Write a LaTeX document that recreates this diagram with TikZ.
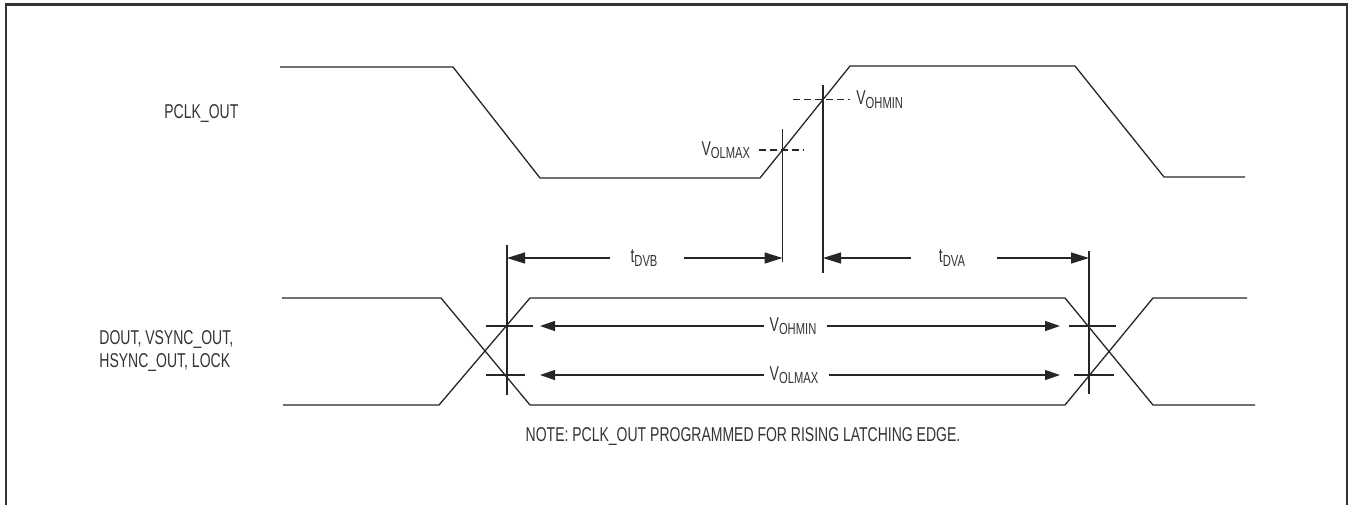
\documentclass[tikz,border=0pt]{standalone}
\usepackage{fontspec}
\setmainfont{Liberation Sans}[FakeStretch=0.7]
\usetikzlibrary{arrows.meta,calc}
\newcommand{\lvl}[2]{#1\raisebox{-1.6pt}{\fontsize{8}{8}\selectfont #2}}

\begin{document}
\begin{tikzpicture}[x=0.5pt,y=-0.5pt]
  \tikzstyle{border}=[draw=black!80, line width=1.1pt]
  \tikzstyle{wave}=[draw=black!85, line width=0.65pt]
  \tikzstyle{guide}=[draw=black!85, line width=0.65pt]
  \tikzstyle{thresh}=[draw=black!85, line width=0.6pt, dash pattern=on 3.5pt off 2pt]
  \tikzstyle{dim}=[draw=black!85, line width=0.65pt, -{Triangle[length=9pt,width=5.5pt]}]
  \tikzstyle{eye}=[draw=black!85, line width=0.65pt, -{Triangle[length=7.5pt,width=5pt]}]
  \tikzstyle{lbl}=[inner sep=0pt, font=\fontsize{10}{11.5}\selectfont, text=black!80]

  \useasboundingbox (0,0) rectangle (1350,505);
  \path[border] (6,505) -- (6,4.5) -- (1347,4.5) -- (1347,505);

  % signal names
  \node [lbl, anchor=west] (pclk) at (164,113) {PCLK\_OUT};
  \node [lbl, anchor=west, align=left] (dout) at (99,351) {DOUT, VSYNC\_OUT,\\HSYNC\_OUT, LOCK};

  % PCLK_OUT
  \coordinate (p0) at (280,67);
  \coordinate (p1) at (453,67);
  \coordinate (p2) at (540,178);
  \coordinate (p3) at (760,178);
  \coordinate (p4) at (850,66);
  \coordinate (p5) at (1075,66);
  \coordinate (p6) at (1164,177);
  \coordinate (p7) at (1245,177);
  \path[wave] (p0) -- (p1) -- (p2) -- (p3) -- (p4) -- (p5) -- (p6) -- (p7);

  % thresholds on the rising edge
  \coordinate (xol) at ($(p3)!0.25!(p4)$);
  \coordinate (xoh) at ($(p3)!0.7!(p4)$);
  \node [lbl, anchor=east] (volp) at ($(xol)+(-32,0)$) {\lvl{V}{OLMAX}};
  \node [lbl, anchor=west] (vohp) at ($(xoh)+(33,0)$) {\lvl{V}{OHMIN}};
  \path[thresh] ($(volp.east)+(8,0)$) -- ($(xol)+(21,0)$);
  \path[thresh] ($(xoh)+(-30,0)$) -- ($(vohp.west)+(-6,0)$);

  % timing markers
  \coordinate (olt) at (782.5,129);
  \coordinate (olb) at (782.5,262);
  \coordinate (oht) at (823,85);
  \coordinate (ohb) at (823,273);
  \coordinate (lt) at (507,245);
  \coordinate (lb) at (507,395);
  \coordinate (rt) at (1089,251);
  \coordinate (rb) at (1089,394);
  \path[guide] (olt) -- (olb);
  \path[guide] (oht) -- (ohb);
  \path[guide] (lt) -- (lb);
  \path[guide] (rt) -- (rb);

  \node [lbl] (tdvb) at (644,258) {\lvl{t}{DVB}};
  \node [lbl] (tdva) at (952,258) {\lvl{t}{DVA}};
  \draw[dim, shorten <=10pt] (tdvb.west) -- (lt |- tdvb);
  \draw[dim, shorten <=13pt] (tdvb.east) -- (olb |- tdvb);
  \draw[dim, shorten <=14pt] (tdva.west) -- (ohb |- tdva);
  \draw[dim, shorten <=16pt] (tdva.east) -- (rt |- tdva);

  % DOUT, VSYNC_OUT, HSYNC_OUT, LOCK
  \coordinate (a0) at (282,298);
  \coordinate (a1) at (441,298);
  \coordinate (a2) at (530,405);
  \coordinate (a3) at (1065,405);
  \coordinate (a4) at (1153,298);
  \coordinate (a5) at (1247,298);
  \coordinate (b0) at (283,405);
  \coordinate (b1) at (439,405);
  \coordinate (b2) at (530,298);
  \coordinate (b3) at (1065,298);
  \coordinate (b4) at (1153,405);
  \coordinate (b5) at (1255,405);
  \path[wave] (a0) -- (a1) -- (a2) -- (a3) -- (a4) -- (a5);
  \path[wave] (b0) -- (b1) -- (b2) -- (b3) -- (b4) -- (b5);

  \path[guide] (486,326) -- (533,326);
  \path[guide] (1069,326) -- (1116,326);
  \path[guide] (486,375) -- (525,375);
  \path[guide] (1074,375) -- (1114,375);

  \coordinate (ohl) at (540,326);
  \coordinate (ohr) at (1060,326);
  \coordinate (oll) at (540,375);
  \coordinate (olr) at (1060,375);
  \node [lbl] (eoh) at (793,326) {\lvl{V}{OHMIN}};
  \node [lbl] (eol) at (794,375) {\lvl{V}{OLMAX}};
  \draw[eye, shorten <=2.5pt] (eoh.west) -- (ohl);
  \draw[eye, shorten <=5pt] (eoh.east) -- (ohr);
  \draw[eye, shorten <=2.5pt] (eol.west) -- (oll);
  \draw[eye, shorten <=5pt] (eol.east) -- (olr);

  \node [lbl] (note) at (743,436) {NOTE: PCLK\_OUT PROGRAMMED FOR RISING LATCHING EDGE.};
\end{tikzpicture}
\end{document}
